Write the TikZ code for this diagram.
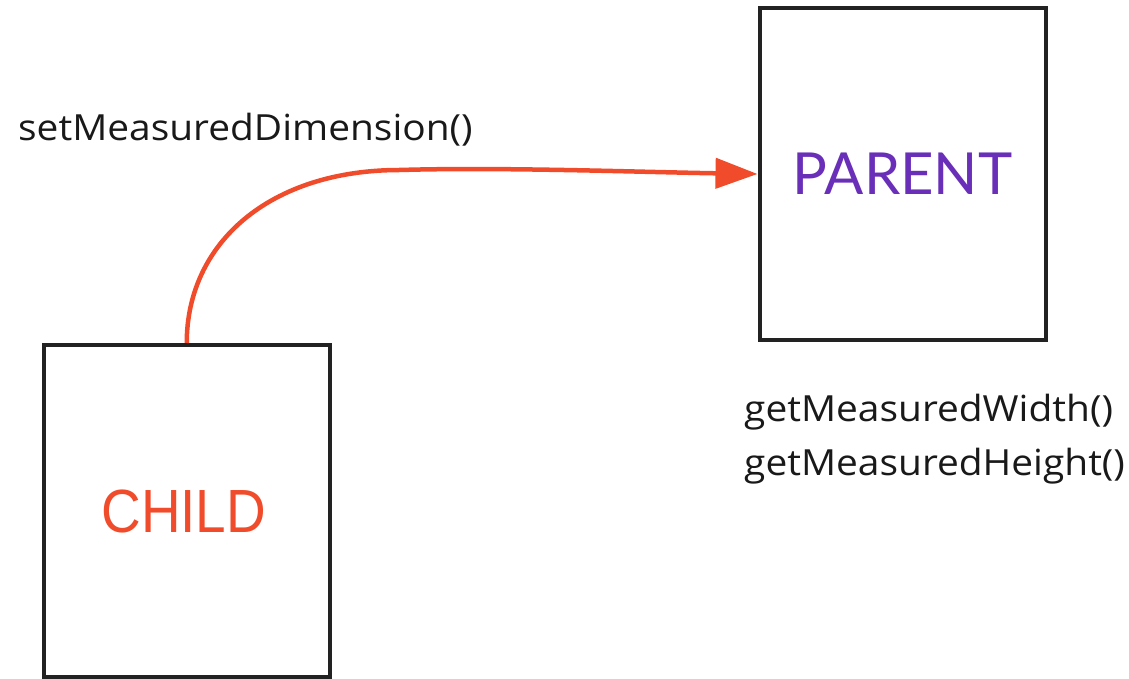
\documentclass[tikz,border=0pt]{standalone}
\usepackage{fontspec}
\setmainfont[FakeStretch=1.08]{Open Sans}
\newfontfamily\childfont[FakeStretch=0.9]{Liberation Sans}
\newfontfamily\parentfont{Lato}
\usetikzlibrary{arrows.meta}

\definecolor{childred}{HTML}{F04B2A}
\definecolor{parentpurple}{HTML}{6A2FB8}
\definecolor{boxline}{HTML}{222222}

\tikzset{
  viewbox/.style={draw=boxline, line width=4pt, minimum width=286pt, minimum height=332pt, inner sep=0pt},
  callname/.style={inner sep=0pt, font=\fontsize{36}{54}\selectfont, text=black!90},
  measure/.style={draw=childred, line width=4.5pt, -{Triangle[length=42pt,width=30pt]}}
}

\begin{document}
\begin{tikzpicture}[x=10pt,y=10pt]
\useasboundingbox (0,0) rectangle (112.9,67.8);
% the two views
\node[viewbox] (parent) at (90.25,50.4) {\parentfont\fontsize{58}{58}\selectfont\color{parentpurple}PARENT};
\node[viewbox] (child) at (18.675,16.7) {\childfont\fontsize{61}{61}\selectfont\color{childred}\hspace*{-6pt}CHILD};
% method names
\node[callname, anchor=base west] (setdim) at (1.8,53.7) {setMeasuredDimension()};
\node[callname, anchor=north west, align=left] (getdim) at (74.4,28.4) {getMeasuredWidth()\\getMeasuredHeight()};
% child reports its size up to the parent
\draw[measure] (child.north) .. controls +(0,10) and +(-13,0) .. ++(21.3,17.3)
  .. controls +(10,0.3) and +(-12,0.2) .. (parent.west);
\end{tikzpicture}
\end{document}
